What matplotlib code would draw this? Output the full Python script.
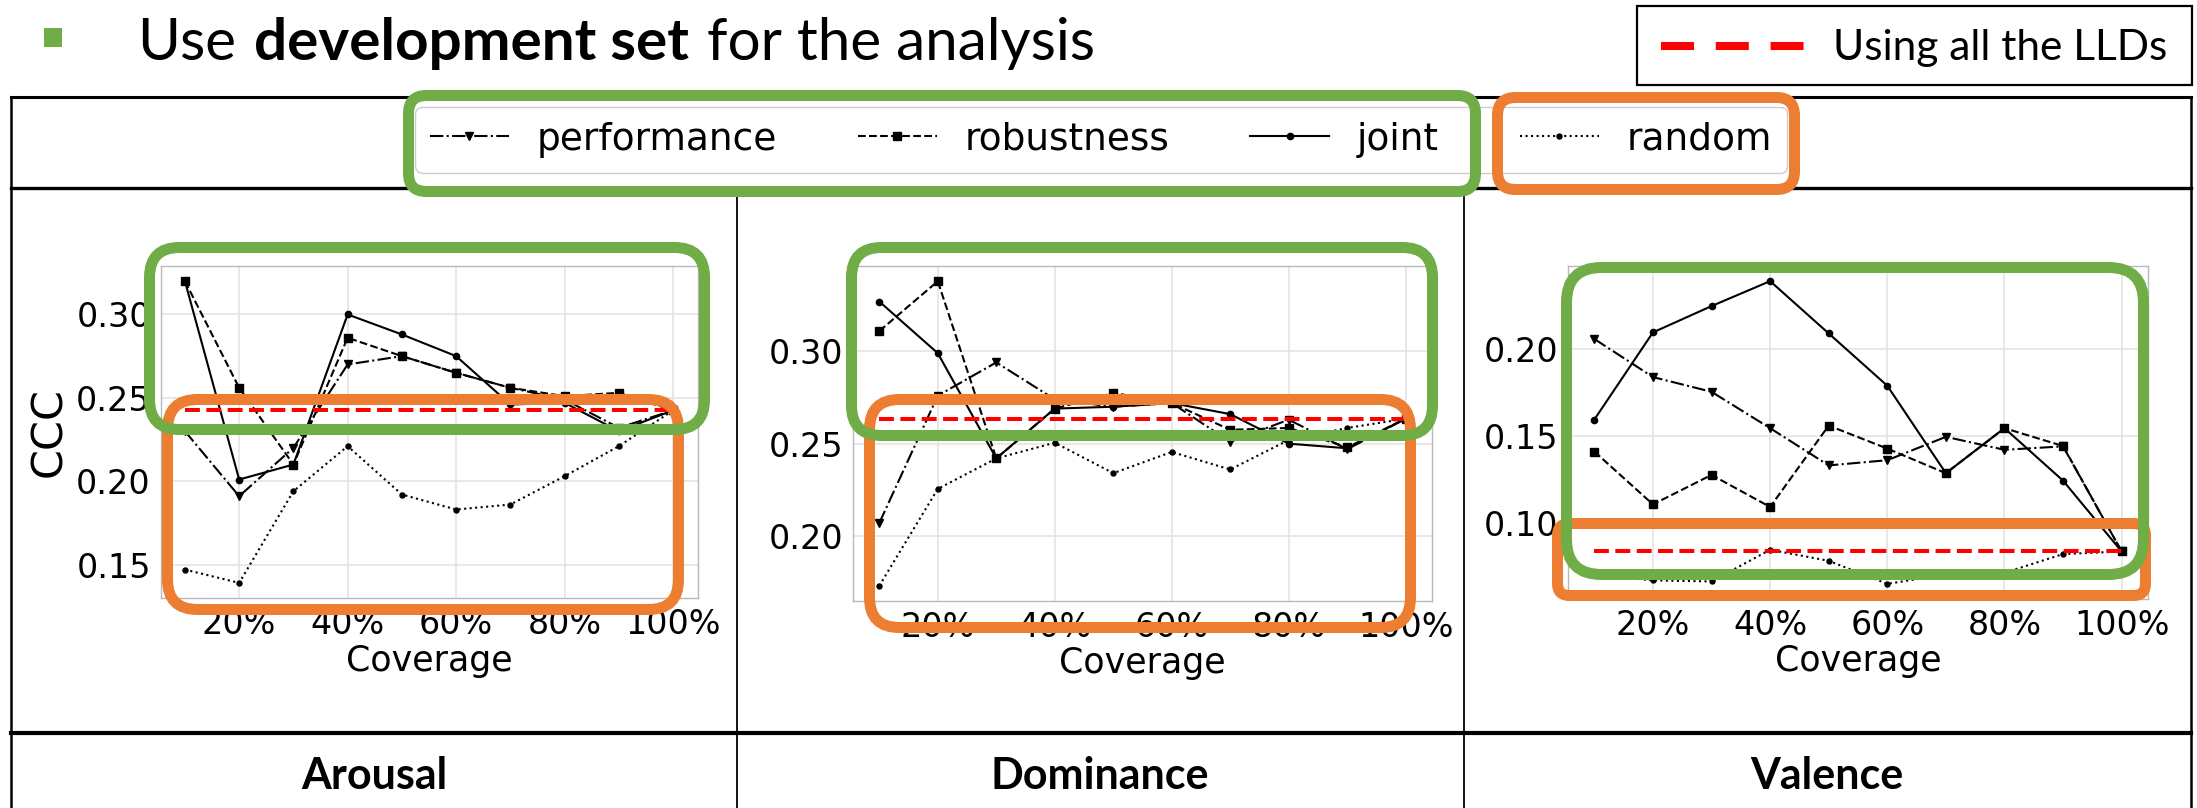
import matplotlib
matplotlib.use("Agg")
import matplotlib.pyplot as plt
from matplotlib.patches import FancyBboxPatch, Rectangle
from matplotlib.lines import Line2D
from matplotlib.ticker import MultipleLocator, PercentFormatter, FormatStrFormatter

# -------------------------
# Data: CCC on the development set vs. feature coverage
# -------------------------
coverage = [0.1, 0.2, 0.3, 0.4, 0.5, 0.6, 0.7, 0.8, 0.9, 1.0]
dimensions = ["Arousal", "Dominance", "Valence"]
series_labels = ["performance", "robustness", "joint", "random"]

arousal_performance = [0.230, 0.191, 0.220, 0.270, 0.275, 0.265, 0.256, 0.249, 0.232, 0.2425]
arousal_robustness  = [0.320, 0.256, 0.210, 0.286, 0.275, 0.265, 0.256, 0.251, 0.253, 0.2425]
arousal_joint       = [0.320, 0.201, 0.210, 0.300, 0.288, 0.275, 0.246, 0.247, 0.230, 0.2425]
arousal_random      = [0.147, 0.139, 0.194, 0.221, 0.192, 0.183, 0.186, 0.203, 0.221, 0.2425]

dominance_performance = [0.207, 0.276, 0.294, 0.274, 0.270, 0.272, 0.251, 0.263, 0.247, 0.2635]
dominance_robustness  = [0.311, 0.338, 0.242, 0.269, 0.2775, 0.272, 0.2575, 0.2585, 0.248, 0.2635]
dominance_joint       = [0.327, 0.299, 0.242, 0.269, 0.270, 0.272, 0.266, 0.250, 0.2475, 0.2635]
dominance_random      = [0.173, 0.2255, 0.242, 0.2505, 0.234, 0.2455, 0.236, 0.252, 0.2585, 0.2635]

valence_performance = [0.206, 0.184, 0.1755, 0.1545, 0.133, 0.136, 0.1495, 0.142, 0.144, 0.0833]
valence_robustness  = [0.141, 0.1105, 0.1275, 0.109, 0.156, 0.1427, 0.1285, 0.1545, 0.1442, 0.0833]
valence_joint       = [0.1595, 0.2098, 0.225, 0.2394, 0.2092, 0.179, 0.1285, 0.1545, 0.1242, 0.0833]
valence_random      = [0.070, 0.0666, 0.066, 0.0843, 0.0779, 0.0646, 0.070, 0.071, 0.0818, 0.0833]

# CCC when all the LLDs are used
all_llds = [0.2425, 0.2635, 0.0833]

curves = {
    "Arousal":   [arousal_performance, arousal_robustness, arousal_joint, arousal_random],
    "Dominance": [dominance_performance, dominance_robustness, dominance_joint, dominance_random],
    "Valence":   [valence_performance, valence_robustness, valence_joint, valence_random],
}

# -------------------------
# Styles
# -------------------------
GREEN = "#70AD47"
ORANGE = "#ED7D31"
series_styles = [
    dict(ls="-.", marker="v", ms=5.5),
    dict(ls="--", marker="s", ms=5.5),
    dict(ls="-",  marker="o", ms=4.5),
    dict(ls=":",  marker="o", ms=3.6),
]

W, H = 2197, 808
fig = plt.figure(figsize=(W / 100, H / 100), dpi=100)
fig.patch.set_facecolor("white")


def px_axes(left, top, right, bottom, **kw):
    return fig.add_axes([left / W, 1 - bottom / H, (right - left) / W, (bottom - top) / H], **kw)


# full-figure layers in pixel units (y grows downwards)
bg = px_axes(0, 0, W, H, zorder=0)
fg = px_axes(0, 0, W, H, zorder=10)
for layer in (bg, fg):
    layer.set_xlim(0, W)
    layer.set_ylim(H, 0)
    layer.axis("off")
    layer.patch.set_alpha(0)

# -------------------------
# Slide heading
# -------------------------
bg.add_patch(Rectangle((44, 28), 18, 19, color=GREEN, lw=0))
renderer = fig.canvas.get_renderer()
x = 137
for piece, weight in [("Use", "normal"), ("development set", "bold"), ("for the analysis", "normal")]:
    t = bg.text(x, 60, piece, fontsize=42, family="Lato", weight=weight, va="baseline", ha="left")
    x += t.get_window_extent(renderer).width + 18

# key for the red reference line
bg.add_patch(Rectangle((1637, 6), 555, 79, fill=False, ec="black", lw=1.6))
key = Line2D([1661, 1805], [46, 46], color="red", lw=5.8, solid_capstyle="butt")
key.set_dashes((4.1, 2.7))
bg.add_line(key)
bg.text(1833, 60, "Using all the LLDs", fontsize=30.5, family="Lato", va="baseline", ha="left")

# -------------------------
# Table grid
# -------------------------
def seg(x0, y0, x1, y1, lw):
    bg.add_line(Line2D([x0, x1], [y0, y1], color="black", lw=lw, solid_capstyle="projecting"))

seg(10.5, 96.5, 2191, 96.5, 2.2)
seg(10.5, 188, 2191, 188, 2.4)
seg(10.5, 733, 2191, 733, 3.0)
seg(10.5, 96.5, 10.5, H, 1.8)
seg(2191, 96.5, 2191, H, 1.8)
seg(737, 188, 737, H, 1.3)
seg(1464, 188, 1464, H, 1.3)

for name, xc in zip(dimensions, [374, 1100, 1827]):
    bg.text(xc, 789, name, fontsize=31, family="Lato", weight="bold", ha="center", va="baseline")

# -------------------------
# Charts
# -------------------------
axes_px = [(160.5, 266, 697.5, 598), (853, 266, 1432, 601), (1568, 266, 2148, 599)]
handles = []
for i, name in enumerate(dimensions):
    ax = px_axes(*axes_px[i], zorder=1)
    ax.set_facecolor("white")
    ax.set_axisbelow(True)
    ax.grid(True, color="#e2e2e2", lw=1.1)
    for sp in ax.spines.values():
        sp.set_color("#b8b8b8")
        sp.set_linewidth(1.0)

    for values, label, style in zip(curves[name], series_labels, series_styles):
        line, = ax.plot(coverage, values, color="black", lw=1.5, label=label, **style)
        if i == 0:
            handles.append(line)
    ax.plot(coverage, [all_llds[i]] * len(coverage), color="red", ls="--", lw=2.9)

    ax.xaxis.set_major_locator(MultipleLocator(0.2))
    ax.xaxis.set_major_formatter(PercentFormatter(xmax=1, decimals=0))
    ax.yaxis.set_major_locator(MultipleLocator(0.05))
    ax.yaxis.set_major_formatter(FormatStrFormatter("%.2f"))
    ax.tick_params(length=0, pad=7, labelsize=24)
    ax.set_xlabel("Coverage", fontsize=25, labelpad=2)
    if i == 0:
        ax.set_ylabel("CCC", fontsize=31, labelpad=4)

leg = fig.legend(handles, series_labels, loc="center", bbox_to_anchor=(1101 / W, 1 - 139.5 / H),
                 ncol=4, fontsize=27, frameon=True, fancybox=True, edgecolor="#cccccc",
                 framealpha=1, handlelength=2.1, handletextpad=0.75, columnspacing=2.15,
                 borderpad=0.4)
leg.set_zorder(5)

# -------------------------
# Highlight boxes
# -------------------------
def rbox(x0, y0, x1, y1, color, r, lw_px=11):
    h = lw_px / 2
    fg.add_patch(FancyBboxPatch((x0 + h, y0 + h), x1 - x0 - lw_px, y1 - y0 - lw_px,
                                boxstyle=f"round,pad=0,rounding_size={r}",
                                fill=False, ec=color, lw=lw_px * 0.72))

rbox(403, 90, 1481, 197, GREEN, 18)
rbox(1492, 92, 1800, 195, ORANGE, 18)

rbox(162, 394, 684, 615, ORANGE, 30)
rbox(144, 242, 710, 435, GREEN, 30)
rbox(864, 394, 1416, 633, ORANGE, 30)
rbox(846, 242, 1438, 441, GREEN, 30)
rbox(1552, 518, 2151, 601, ORANGE, 12)
rbox(1561, 262, 2149, 580, GREEN, 35)

fig.savefig("out.png", dpi=100)
